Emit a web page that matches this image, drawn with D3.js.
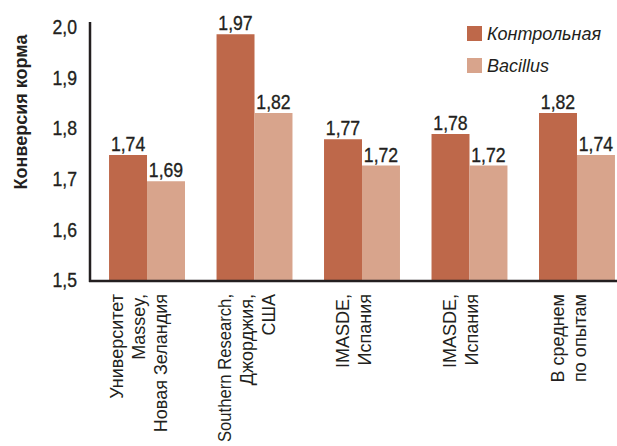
<!DOCTYPE html>
<html>
<head>
<meta charset="utf-8">
<script src="https://cdn.jsdelivr.net/npm/d3@7"></script>
<style>
  body { margin: 0; background: #fff; }
  svg text { fill: #231f20; }
  .num { font-family: "Liberation Sans", Arial, sans-serif; font-size: 21px; stroke: #231f20; stroke-width: 0.35px; }
  .cat { font-family: "Liberation Sans", Arial, sans-serif; font-size: 18px; }
  .leg { font-family: "Liberation Sans", Arial, sans-serif; font-size: 18px; font-style: italic; }
  .ttl { font-family: "Liberation Sans", Arial, sans-serif; font-size: 18px; font-weight: bold; }
</style>
</head>
<body>
<div id="chart"></div>
<script>
var categories = [
  ["Университет", "Massey,", "Новая Зеландия"],
  ["Southern Research,", "Джорджия,", "США"],
  ["IMASDE,", "Испания"],
  ["IMASDE,", "Испания"],
  ["В среднем", "по опытам"]
];
var seriesNames = ["Контрольная", "Bacillus"];
var control = [1.74, 1.97, 1.77, 1.78, 1.82];
var bacillus = [1.69, 1.82, 1.72, 1.72, 1.74];
var yTicks = [1.5, 1.6, 1.7, 1.8, 1.9, 2.0];
var colors = ["#be684a", "#d8a48c"];

var width = 617, height = 446;
var narrow = "scale(0.84,1)"; // the original digits are condensed

var svg = d3.select("#chart").append("svg")
  .attr("width", width)
  .attr("height", height);

var x0 = d3.scaleBand()
  .domain(d3.range(categories.length))
  .range([77.5, 646.5])
  .padding(0.2935);

var x1 = d3.scaleBand()
  .domain(seriesNames)
  .range([0, x0.bandwidth()]);

// bars
var y = d3.scaleLinear().domain([1.5, 2.0]).range([281, 18.5]);
// tick labels sit on a slightly tighter grid in the original
var yLab = d3.scaleLinear().domain([1.5, 2.0]).range([280, 27]);

var rows = categories.map(function(c, i) {
  return [
    { key: seriesNames[0], value: control[i] },
    { key: seriesNames[1], value: bacillus[i] }
  ];
});

var groups = svg.selectAll("g.group")
  .data(rows)
  .enter().append("g")
  .attr("class", "group")
  .attr("transform", function(d, i) { return "translate(" + x0(i) + ",0)"; });

groups.selectAll("rect")
  .data(function(d) { return d; })
  .enter().append("rect")
  .attr("x", function(d) { return x1(d.key); })
  .attr("width", x1.bandwidth())
  .attr("y", function(d) { return y(d.value); })
  .attr("height", function(d) { return y(1.5) - y(d.value); })
  .attr("fill", function(d, i) { return colors[i]; });

groups.selectAll("text.num")
  .data(function(d) { return d; })
  .enter().append("text")
  .attr("class", "num")
  .attr("text-anchor", "middle")
  .attr("transform", function(d) {
    return "translate(" + (x1(d.key) + x1.bandwidth() / 2) + "," + (y(d.value) - 4) + ") " + narrow;
  })
  .text(function(d) { return d3.format(".2f")(d.value).replace(".", ","); });

// y axis labels
var yAxis = d3.axisLeft(yLab)
  .tickValues(yTicks)
  .tickSize(0)
  .tickPadding(0)
  .tickFormat(function(d) { return d3.format(".1f")(d).replace(".", ","); });

var ya = svg.append("g")
  .attr("transform", "translate(77,0)")
  .call(yAxis);
ya.select(".domain").remove();
ya.selectAll("text")
  .attr("class", "num")
  .attr("font-size", null)
  .attr("font-family", null)
  .attr("fill", null)
  .attr("transform", narrow);

// axis lines
svg.append("line")
  .attr("x1", 90).attr("x2", 90)
  .attr("y1", 22).attr("y2", 282)
  .attr("stroke", "#231f20").attr("stroke-width", 2.5);
svg.append("line")
  .attr("x1", 89).attr("x2", width)
  .attr("y1", 281).attr("y2", 281)
  .attr("stroke", "#231f20").attr("stroke-width", 2.5);

// y title
svg.append("text")
  .attr("class", "ttl")
  .attr("text-anchor", "middle")
  .attr("transform", "translate(27,112) rotate(-90)")
  .text("Конверсия корма");

// category labels, rotated
var labelTop = 294, maxLen = height - labelTop - 4;
categories.forEach(function(lines, i) {
  var cx = x0(i) + x0.bandwidth() / 2 - 8;
  var n = lines.length;
  lines.forEach(function(t, j) {
    var lx = cx + (j - (n - 1) / 2) * 22 + 6;
    var txt = svg.append("text")
      .attr("class", "cat")
      .attr("text-anchor", "end")
      .attr("transform", "translate(" + lx + "," + labelTop + ") rotate(-90)")
      .text(t);
    // squeeze the long one so it stays inside the picture
    if (txt.node().getComputedTextLength() > maxLen) {
      txt.attr("textLength", maxLen).attr("lengthAdjust", "spacingAndGlyphs");
    }
  });
});

// legend
var legend = svg.append("g").attr("transform", "translate(467,26)");
seriesNames.forEach(function(s, i) {
  var g = legend.append("g").attr("transform", "translate(0," + i * 32 + ")");
  g.append("rect").attr("width", 15).attr("height", 15).attr("fill", colors[i]);
  g.append("text").attr("class", "leg")
    .attr("x", 20).attr("y", 14)
    .text(s);
});
</script>
</body>
</html>
